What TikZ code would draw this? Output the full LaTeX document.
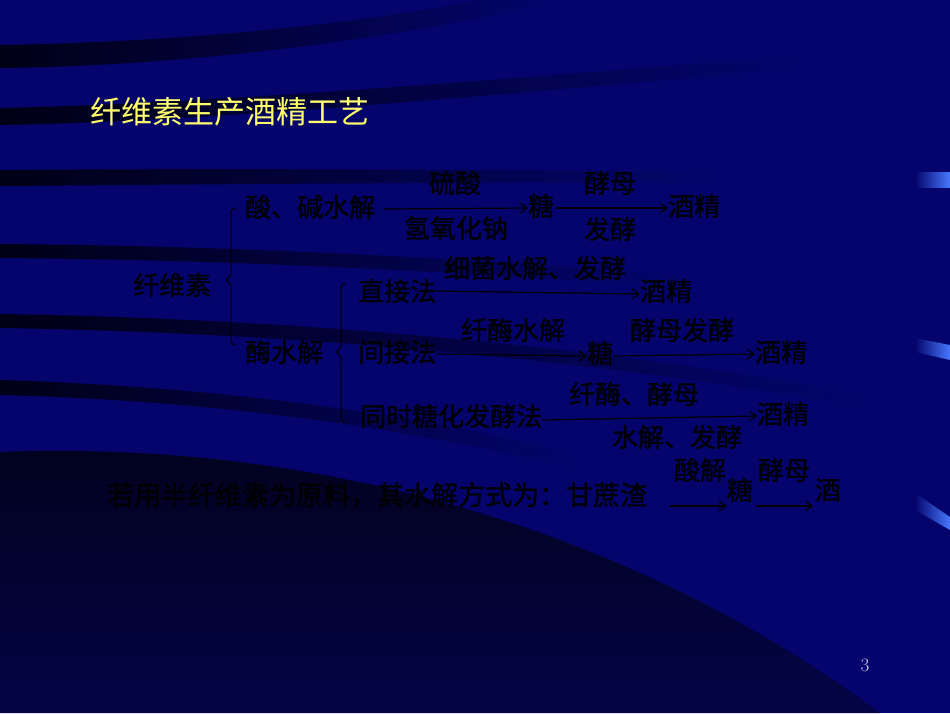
\documentclass[tikz,border=0pt]{standalone}
\usepackage{fontspec}
\newfontfamily\cjk{Noto Sans CJK SC}
\newfontfamily\cjko[FakeBold=1.0]{Noto Sans CJK SC}
\usetikzlibrary{arrows.meta}
\definecolor{bg}{RGB}{4,4,108}
\definecolor{bandc}{RGB}{0,0,22}
\definecolor{tabblue}{RGB}{70,120,255}
\definecolor{titley}{RGB}{255,255,110}
\definecolor{pgnum}{RGB}{200,200,230}
\tikzset{
  lbl/.style={inner sep=0pt, anchor=west, text=black, font=\cjko\fontsize{26}{26}\selectfont,
    execute at begin node={\special{pdf:code 0.4 0.4 0.52 RG}}},
  lbls/.style={lbl, anchor=center},
  arr/.style={draw=black, line width=1.2pt, -{Straight Barb[length=7pt,width=10pt,line width=1.2pt]}},
  brace/.style={draw=black, line width=1pt}
}
\begin{document}
\begin{tikzpicture}[x=1pt,y=-1pt]
\useasboundingbox (0,0) rectangle (950,713);
\fill[bg] (0,0) rectangle (950,713);
% dark bands
\shade[left color=bandc, right color=bg] (0,45) .. controls (200,42) and (380,20) .. (480,0) -- (560,0) .. controls (420,35) and (200,66) .. (0,68) -- cycle;
\shade[left color=bandc, right color=bg] (0,108) .. controls (200,104) and (500,80) .. (800,55) -- (800,68) .. controls (500,95) and (200,122) .. (0,125) -- cycle;
\shade[left color=bandc, right color=bg] (0,170) .. controls (250,168) and (500,170) .. (720,172) -- (720,182) .. controls (500,182) and (250,184) .. (0,186) -- cycle;
\shade[left color=bandc, right color=bg] (0,244) .. controls (250,246) and (450,258) .. (680,275) -- (680,287) .. controls (450,272) and (250,260) .. (0,258) -- cycle;
\shade[left color=bandc, right color=bg] (0,314) .. controls (250,318) and (550,338) .. (870,395) -- (870,408) .. controls (550,352) and (250,332) .. (0,328) -- cycle;
\shade[left color=bandc, right color=bg] (0,380) .. controls (200,386) and (400,410) .. (580,455) -- (580,470) .. controls (400,425) and (200,400) .. (0,395) -- cycle;
% bottom dark region
\shade[top color={rgb,255:red,2;green,2;blue,30}, bottom color={rgb,255:red,4;green,4;blue,70}] (0,452) .. controls (300,440) and (620,520) .. (880,713) -- (0,713) -- cycle;
% right tabs
\shade[left color=bg, right color=tabblue] (915,172) rectangle (950,187);
\shade[left color=bg, right color=tabblue] (915,338) -- (950,345) -- (950,360) -- (915,352) -- cycle;
\shade[left color=bg, right color=tabblue] (915,493) -- (950,517) -- (950,530) -- (915,510) -- cycle;

% title
\node[inner sep=0pt, anchor=west, text=titley, font=\cjk\fontsize{31}{31}\selectfont] (title) at (90,112) {纤维素生产酒精工艺};

% row 1
\node[lbl] (xws) at (133,285) {纤维素};
\node[lbl] (sjs) at (245,207) {酸、碱水解};
\node[lbls] (ls) at (455,183) {硫酸};
\node[lbls] (qyhn) at (456,228) {氢氧化钠};
\node[lbl] (tang1) at (528,206) {糖};
\node[lbls] (jm1) at (610,183) {酵母};
\node[lbls] (fj1) at (610,229) {发酵};
\node[lbl] (jj1) at (668,206) {酒精};
\draw[arr] ([xshift=8pt,yshift=-2pt]sjs.east) -- ([yshift=-2pt]tang1.west);
\draw[arr] ([xshift=2pt,yshift=-2pt]tang1.east) -- ([yshift=-2pt]jj1.west);

% enzyme branch
\node[lbl] (msj) at (245,352) {酶水解};
\node[lbl] (zjf) at (358,291) {直接法};
\node[lbls] (xjsj) at (535,268) {细菌水解、发酵};
\node[lbl] (jj2) at (640,291) {酒精};
\draw[arr] (zjf.east) -- ([yshift=-3pt]jj2.west);

\node[lbl] (jjf) at (358,352) {间接法};
\node[lbls] (xmsj) at (513,330) {纤酶水解};
\node[lbl] (tang2) at (587,353) {糖};
\node[lbls] (jmfj) at (682,330) {酵母发酵};
\node[lbl] (jj3) at (755,352) {酒精};
\draw[arr] ([yshift=-2pt]jjf.east) -- ([yshift=-3pt]tang2.west);
\draw[arr] ([yshift=-3pt]tang2.east) -- ([yshift=-2pt]jj3.west);

\node[lbl] (tsf) at (360,416) {同时糖化发酵法};
\node[lbls] (xmjm) at (634,394) {纤酶、酵母};
\node[lbls] (sjfj) at (677,437) {水解、发酵};
\node[lbl] (jj4) at (757,414) {酒精};
\draw[arr] ([yshift=-4pt]tsf.east) -- ([yshift=-2pt]jj4.west);

% braces
\draw[brace] (236,208) .. controls (231,208) and (231,212) .. (231,218) -- (231,270) .. controls (231,276) .. (226,280) .. controls (231,284) .. (231,290) -- (231,337) .. controls (231,343) and (232,345) .. (236,345);
\draw[brace] (346,283) .. controls (341,283) and (341,287) .. (341,293) -- (341,342) .. controls (341,348) .. (336,352) .. controls (341,356) .. (341,362) -- (341,414) .. controls (341,420) and (342,422) .. (346,422);

% bottom line
\node[lbl, font=\cjko\fontsize{27}{27}\selectfont] (ruo) at (107,495) {若用半纤维素为原料，其水解方式为：甘蔗渣};
\node[lbls] (sj) at (700,470) {酸解};
\node[lbls] (tang3) at (740,490) {糖};
\node[lbls] (jm3) at (784,470) {酵母};
\node[lbls] (jiu) at (828,490) {酒};
\coordinate (b1s) at (670,506);
\coordinate (b1e) at (727,506);
\coordinate (b2s) at (756,506);
\coordinate (b2e) at (813,506);
\draw[arr] (b1s) -- (b1e);
\draw[arr] (b2s) -- (b2e);

% page number
\node[inner sep=0pt, text=pgnum, font=\fontsize{19}{19}\selectfont] (pg) at (865,665) {3};
\end{tikzpicture}
\end{document}
